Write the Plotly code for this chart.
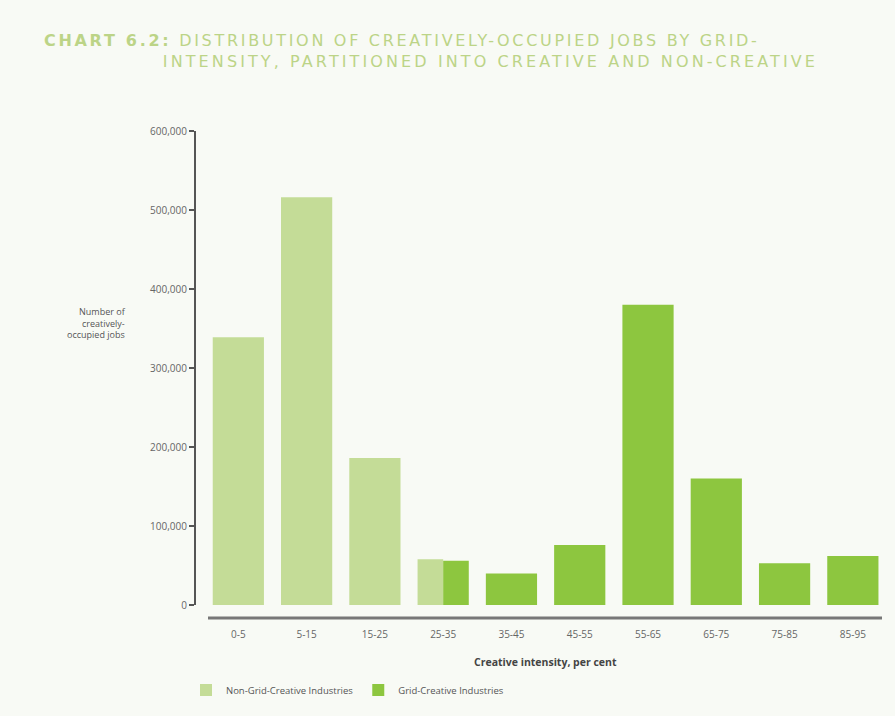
import plotly.graph_objects as go

categories = ["0-5", "5-15", "15-25", "25-35", "35-45", "45-55", "55-65", "65-75", "75-85", "85-95"]
non_grid = [339000, 516000, 186000, 58000, None, None, None, None, None, None]
grid = [None, None, None, 56000, 40000, 76000, 380000, 160000, 53000, 62000]
y_ticks = [0, 100000, 200000, 300000, 400000, 500000, 600000]
y_tick_labels = ["0", "100,000", "200,000", "300,000", "400,000", "500,000", "600,000"]

W, H = 895, 716
ML, MR, MT, MB = 196, 8, 131, 111
PW, PH = W - ML - MR, H - MT - MB

def px(x):
    return (x - ML) / PW

def py(y):
    return (H - MB - y) / PH

LIGHT = "#c4dc97"
DARK = "#8dc63f"
BW = 0.75

def widths(vals, other):
    w = []
    for v, ov in zip(vals, other):
        if v is not None and ov is not None:
            w.append(BW / 2)
        else:
            w.append(BW)
    return w

nw = widths(non_grid, grid)
gw = widths(grid, non_grid)
no = [-BW / 2 for _ in categories]
go_ = [(0 if (a is not None and b is not None) else -BW / 2) for a, b in zip(grid, non_grid)]

fig = go.Figure()
fig.add_trace(go.Bar(x=categories, y=non_grid, name="Non-Grid-Creative Industries",
                     marker=dict(color=LIGHT, line=dict(width=0)), width=nw, offset=no))
fig.add_trace(go.Bar(x=categories, y=grid, name="Grid-Creative Industries",
                     marker=dict(color=DARK, line=dict(width=0)), width=gw, offset=go_))

TITLE_FONT = "DejaVu Sans"
fig.update_layout(
    width=W, height=H,
    margin=dict(l=ML, r=MR, t=MT, b=MB),
    paper_bgcolor="#f8faf5", plot_bgcolor="#f8faf5",
    barmode="overlay",
    font=dict(family="Open Sans", color="#555555"),
    xaxis=dict(range=[-0.62, 9.5], showgrid=False, zeroline=False, showline=False,
               ticks="outside", ticklen=20, tickcolor="rgba(0,0,0,0)",
               tickfont=dict(size=10, color="#666666")),
    yaxis=dict(range=[0, 600000], tickvals=y_ticks, ticktext=y_tick_labels,
               showgrid=False, zeroline=False, showline=True, linecolor="#555555", linewidth=2,
               ticks="outside", ticklen=5, tickcolor="#555555", tickwidth=1.5,
               tickfont=dict(size=10, color="#666666")),
    legend=dict(orientation="h", x=px(186), y=py(690), xanchor="left", yanchor="middle",
                font=dict(size=9.5, color="#555555"), bgcolor="rgba(0,0,0,0)",
                itemwidth=30, traceorder="normal"),
    shapes=[dict(type="line", xref="paper", yref="paper", x0=px(208), x1=px(882),
                 y0=py(618), y1=py(618), line=dict(color="#777777", width=3))],
    annotations=[
        dict(text="<b>CHART 6.2:</b> DISTRIBUTION OF CREATIVELY-OCCUPIED JOBS BY GRID-",
             x=px(402), y=py(40), xref="paper", yref="paper", xanchor="center", yanchor="middle",
             showarrow=False, font=dict(size=16, color="#bcd487", family=TITLE_FONT)),
        dict(text="INTENSITY, PARTITIONED INTO CREATIVE AND NON-CREATIVE",
             x=px(490), y=py(62), xref="paper", yref="paper", xanchor="center", yanchor="middle",
             showarrow=False, font=dict(size=16, color="#bcd487", family=TITLE_FONT)),
        dict(text="Number of<br>creatively-<br>occupied jobs",
             x=px(128), y=py(323), xref="paper", yref="paper", xanchor="right", yanchor="middle",
             align="right", showarrow=False, font=dict(size=9, color="#555555")),
        dict(text="<b>Creative intensity, per cent</b>",
             x=px(545), y=py(662), xref="paper", yref="paper", xanchor="center", yanchor="middle",
             showarrow=False, font=dict(size=10.5, color="#444444")),
    ],
)

post = """
var gd = document.getElementById('{plot_id}');
function spaceTitle() {
  var t = gd.querySelectorAll('.annotation-text');
  if (t.length > 0) { t[0].style.letterSpacing = '2.7px'; }
  if (t.length > 1) { t[1].style.letterSpacing = '3.1px'; }
}
spaceTitle();
gd.on('plotly_afterplot', spaceTitle);
"""

fig.write_html("out.html", post_script=post)
